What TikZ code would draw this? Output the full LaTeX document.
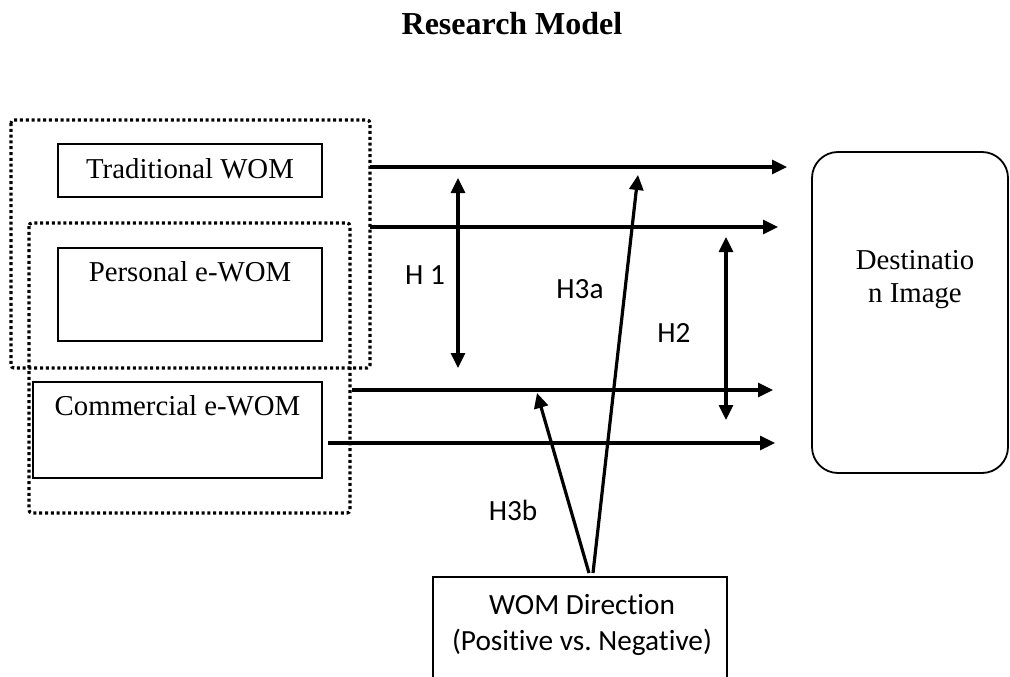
\documentclass[tikz,border=0pt]{standalone}
\usepackage{fontspec}
\setmainfont{Liberation Serif}
\newfontfamily\calibrifont[Ligatures={NoCommon}]{Carlito}
\usetikzlibrary{arrows.meta}
\frenchspacing
\begin{document}
\begin{tikzpicture}[x=1pt,y=-1pt,
  box/.style={draw,line width=1.8pt,rectangle,inner sep=0pt},
  dotbox/.style={draw,line width=3.2pt,dash pattern=on 3pt off 2.8pt,rounded corners=3pt},
  arr/.style={line width=3.2pt,-{Triangle[length=15pt,width=14pt]}},
  darr/.style={line width=3.2pt,{Triangle[length=15pt,width=14pt]}-{Triangle[length=15pt,width=14pt]}},
  serif/.style={font=\fontsize{28.8}{33}\selectfont},
  sans/.style={font=\calibrifont\fontsize{29.3}{36}\selectfont},
]
\clip (0,0) rectangle (1010,677);
\fill[white] (0,0) rectangle (1010,677);
% title
\node[font=\bfseries\fontsize{32}{36}\selectfont,anchor=base] (title) at (512,35) {Research Model};
% dotted groups
\draw[dotbox] (11,120) rectangle (370,368);
\draw[dotbox] (29,223) rectangle (350,513);
% boxes
\node[box,minimum width=264pt,minimum height=53pt] (trad) at (190,170.5) {};
\node[serif] (tradT) at (190,169) {Traditional WOM};
\node[box,minimum width=264pt,minimum height=93pt] (pers) at (190,294.5) {};
\node[serif] (persT) at (190,272) {Personal e-WOM};
\node[box,minimum width=289pt,minimum height=96pt] (comm) at (177.5,430) {};
\node[serif] (commT) at (177.5,406) {Commercial e-WOM};
\node[draw,line width=1.8pt,rounded corners=26pt,minimum width=196pt,minimum height=321pt] (dest) at (910,312.5) {};
\node[serif,align=center] (destT) at (915,280) {Destinatio\\n Image};
\node[box,minimum width=294pt,minimum height=140pt] (wom) at (580,647) {};
\node[sans,align=center] (womT) at (582,625) {WOM Direction\\(Positive vs. Negative)};
% coordinates
\coordinate (a1s) at (370,167); \coordinate (a1e) at (787,167);
\coordinate (a2s) at (370,227); \coordinate (a2e) at (778,227);
\coordinate (a3s) at (352,390); \coordinate (a3e) at (773,390);
\coordinate (a4s) at (328,443); \coordinate (a4e) at (775,443);
\coordinate (h1t) at (458,178); \coordinate (h1b) at (458,368);
\coordinate (h2t) at (726,237); \coordinate (h2b) at (726,420);
\coordinate (h3as) at (593,573); \coordinate (h3ae) at (638,175);
\coordinate (h3bs) at (589,573); \coordinate (h3be) at (537,393);
% arrows
\draw[arr] (a1s) -- (a1e);
\draw[arr] (a2s) -- (a2e);
\draw[arr] (a3s) -- (a3e);
\draw[arr] (a4s) -- (a4e);
\draw[darr] (h1t) -- (h1b);
\draw[darr] (h2t) -- (h2b);
\draw[arr] (h3as) -- (h3ae);
\draw[arr] (h3bs) -- (h3be);
% labels
\node[sans] (lh1) at (425,275) {H 1};
\node[sans] (lh3a) at (580,289) {H3a};
\node[sans] (lh2) at (674,333) {H2};
\node[sans] (lh3b) at (513,510) {H3b};
\end{tikzpicture}
\end{document}
